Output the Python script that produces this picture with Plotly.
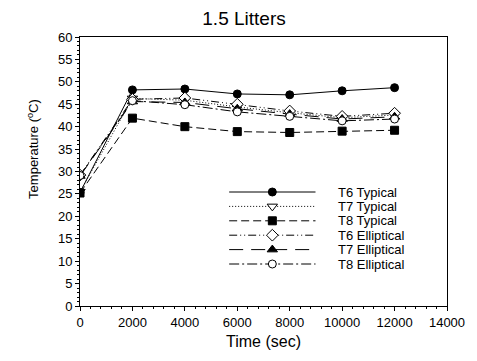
import plotly.graph_objects as go

time_sec = [0, 2000, 4000, 6000, 8000, 10000, 12000]
t6_typical = [25.3, 48.2, 48.4, 47.3, 47.1, 48.0, 48.7]
t7_typical = [25.5, 46.3, 45.9, 44.4, 43.1, 42.0, 42.6]
t8_typical = [25.2, 41.9, 40.0, 38.9, 38.7, 39.0, 39.2]
t6_elliptical = [29.2, 46.1, 46.4, 45.0, 43.5, 42.3, 43.0]
t7_elliptical = [29.0, 45.6, 45.4, 44.0, 42.8, 41.7, 42.2]
t8_elliptical = [29.1, 45.8, 44.9, 43.3, 42.3, 41.3, 41.7]

names = ["T6 Typical", "T7 Typical", "T8 Typical", "T6 Elliptical", "T7 Elliptical", "T8 Elliptical"]
series = [t6_typical, t7_typical, t8_typical, t6_elliptical, t7_elliptical, t8_elliptical]
dashes = ["solid", "1px,2px", "8px,4px", "8px,3px,1px,3px,1px,3px", "14px,8px", "10px,3px,2px,3px"]
symbols = ["circle", "triangle-down-open", "square", "diamond-open", "triangle-up", "circle-open"]
sizes = [8, 9, 8, 9, 9, 8]

FONT = "Liberation Sans, Arial, sans-serif"

fig = go.Figure()
for name, ys, dash, sym, sz in zip(names, series, dashes, symbols, sizes):
    fill = "white" if sym.endswith("open") else "black"
    sym2 = sym.replace("-open", "")
    fig.add_trace(go.Scatter(
        x=time_sec, y=ys, mode="lines+markers", name=name, showlegend=False,
        line=dict(color="black", width=1, dash=dash),
        marker=dict(symbol=sym2, size=sz, color=fill, line=dict(color="black", width=1)),
    ))

# manual legend in pixel-like overlay axes
leg_y0, leg_dy = 192, 14.4
for i, (name, dash, sym, sz) in enumerate(zip(names, dashes, symbols, sizes)):
    fill = "white" if sym.endswith("open") else "black"
    sym2 = sym.replace("-open", "")
    yy = leg_y0 + leg_dy * i
    fig.add_trace(go.Scatter(
        x=[232, 320], y=[yy, yy], mode="lines", xaxis="x2", yaxis="y2", showlegend=False,
        line=dict(color="black", width=1, dash=dash), hoverinfo="skip"))
    fig.add_trace(go.Scatter(
        x=[276], y=[yy], mode="markers", xaxis="x2", yaxis="y2", showlegend=False,
        marker=dict(symbol=sym2, size=sz, color=fill, line=dict(color="black", width=1)), hoverinfo="skip"))
    fig.add_annotation(x=341, y=yy, xref="x2", yref="y2", text=name, showarrow=False,
                       xanchor="left", yanchor="middle", font=dict(size=13, color="black"))

fig.add_annotation(x=(32 - 80) / 374, y=(306 - 149) / 269, xref="paper", yref="paper",
                   text="Temperature (<sup>o</sup>C)", showarrow=False, textangle=-90,
                   xanchor="center", yanchor="middle",
                   font=dict(size=13, color="black"))

axis_common = dict(showline=True, linecolor="black", linewidth=1, mirror=True,
                   ticks="outside", tickcolor="black", ticklen=4, showgrid=False, zeroline=False,
                   tickfont=dict(size=13, color="black"))

fig.update_layout(
    width=477, height=361,
    margin=dict(l=80, r=23, t=37, b=55),
    paper_bgcolor="white", plot_bgcolor="white",
    font=dict(family=FONT, color="black"),
    title=dict(text="1.5 Litters", x=244/477, xanchor="center", y=1 - 18/361, yanchor="middle",
               font=dict(size=19, color="black")),
    xaxis=dict(range=[0, 14000], dtick=2000, tick0=0, tickformat="d",
               minor=dict(dtick=400, ticks="outside", ticklen=2, tickcolor="black"),
               title=dict(text="Time (sec)", font=dict(size=16), standoff=7), **axis_common),
    yaxis=dict(range=[0, 60], dtick=5, tick0=0,
               minor=dict(dtick=1, ticks="outside", ticklen=2, tickcolor="black"), **axis_common),
    xaxis2=dict(range=[80, 454], overlaying="x", visible=False),
    yaxis2=dict(range=[306, 37], overlaying="y", visible=False),
)

fig.write_html("out.html")
